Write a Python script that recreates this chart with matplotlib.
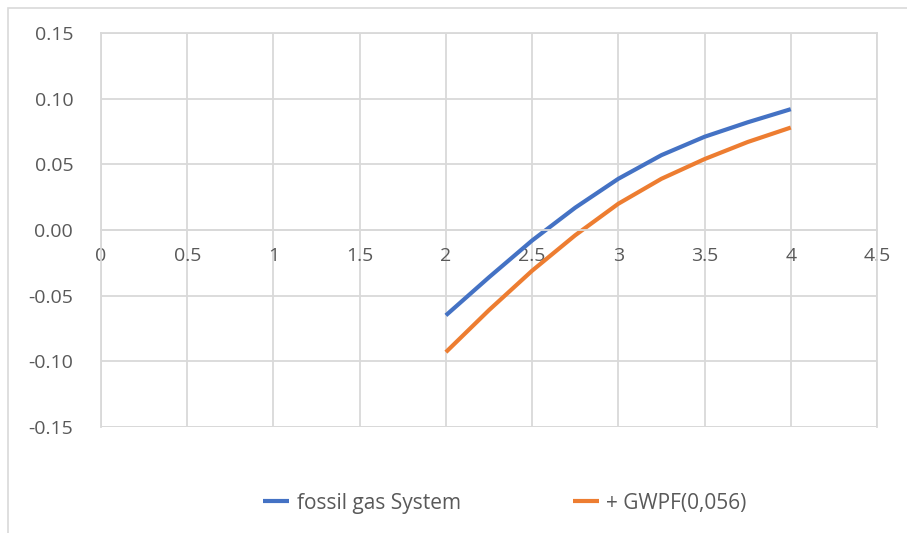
import matplotlib
matplotlib.use("Agg")
import matplotlib.pyplot as plt
from matplotlib.patches import Rectangle

plt.rcParams['font.family'] = ['Open Sans', 'DejaVu Sans']

# wartości odczytane co 0.25
x_vals = [2.0, 2.25, 2.5, 2.75, 3.0, 3.25, 3.5, 3.75, 4.0]
fossil_gas = [-0.065, -0.036, -0.008, 0.017, 0.039, 0.057, 0.071, 0.082, 0.092]
gwpf = [-0.093, -0.061, -0.031, -0.004, 0.020, 0.039, 0.054, 0.067, 0.078]

x_ticks = [0, 0.5, 1, 1.5, 2, 2.5, 3, 3.5, 4, 4.5]
x_tick_labels = ['0', '0.5', '1', '1.5', '2', '2.5', '3', '3.5', '4', '4.5']
y_ticks = [-0.15, -0.10, -0.05, 0.00, 0.05, 0.10, 0.15]

grey_txt = '#595959'
grid_col = '#d9d9d9'

fig = plt.figure(figsize=(9.07, 5.33), dpi=100)
ax = fig.add_axes([101 / 907, 1 - 427 / 533, 776 / 907, 394 / 533])

# ramka całego wykresu
fig.patches.append(Rectangle((8 / 907, -0.1), 1.2, 1 - 8 / 533 + 0.1,
                             transform=fig.transFigure, fill=False,
                             edgecolor='#d9d9d9', linewidth=1.2))

ax.plot(x_vals, fossil_gas, color='#4472c4', linewidth=3,
        solid_capstyle='butt', solid_joinstyle='round', label='fossil gas System')
ax.plot(x_vals, gwpf, color='#ed7d31', linewidth=3,
        solid_capstyle='butt', solid_joinstyle='round', label='+ GWPF(0,056)')

ax.set_xlim(0, 4.5)
ax.set_ylim(-0.15, 0.15)
ax.set_xticks(x_ticks)
ax.set_xticklabels(x_tick_labels)
ax.set_yticks(y_ticks)
ax.set_yticklabels([f'{v:.2f}' for v in y_ticks])

ax.grid(True, color=grid_col, linewidth=1.3)
ax.set_axisbelow(True)
for side in ['top', 'right', 'left']:
    ax.spines[side].set_color(grid_col)
    ax.spines[side].set_linewidth(1.3)
ax.spines['bottom'].set_position(('data', 0))
ax.spines['bottom'].set_color(grid_col)
ax.spines['bottom'].set_linewidth(1.3)

ax.tick_params(axis='x', length=0, pad=12, labelsize=14, colors=grey_txt)
ax.tick_params(axis='y', length=0, pad=20, labelsize=14, colors=grey_txt)

# dolna krawędź obszaru wykresu przy -0.15
ax.axhline(-0.15, color=grid_col, linewidth=1.3, zorder=0)

fig.legend(loc='center', bbox_to_anchor=(505 / 907, 1 - 503 / 533), ncol=2,
           frameon=False, fontsize=15, labelcolor=grey_txt,
           handlelength=1.25, handletextpad=0.35, columnspacing=5.4)

fig.savefig('out.png', dpi=100)
